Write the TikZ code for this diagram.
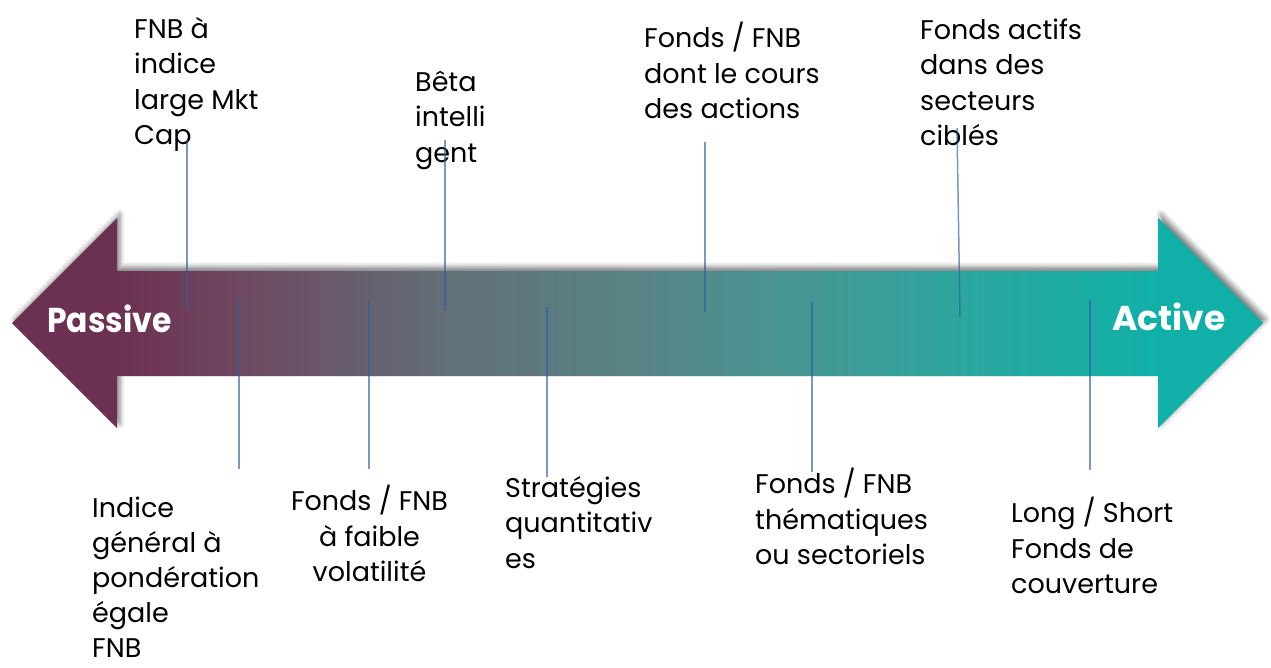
\documentclass[tikz,border=0pt]{standalone}
\usepackage{fontspec}
\usepackage{graphicx}
\setmainfont{Poppins}
\usetikzlibrary{shadows.blur}
\pgfdeclarehorizontalshading{spectrum}{100bp}{
  rgb(0bp)=(0.424,0.188,0.322);
  rgb(29.2bp)=(0.424,0.188,0.322);
  rgb(34bp)=(0.431,0.282,0.376);
  rgb(42.5bp)=(0.384,0.439,0.471);
  rgb(50bp)=(0.345,0.518,0.525);
  rgb(56.5bp)=(0.275,0.588,0.580);
  rgb(64bp)=(0.157,0.659,0.627);
  rgb(70.8bp)=(0.063,0.690,0.659);
  rgb(100bp)=(0.063,0.690,0.659)}
\definecolor{tickblue}{RGB}{47,95,159}
\tikzset{
  lbl/.style={inner sep=0pt, align=left, anchor=north west, text=black,
    font=\fontsize{27}{35.5}\selectfont},
  lblc/.style={lbl, align=center, anchor=north},
  endlbl/.style={inner sep=0pt, anchor=base west, text=white,
    font=\fontsize{34.5}{40}\selectfont\bfseries},
  tick/.style={draw=tickblue, draw opacity=0.65, line width=1.5pt},
  bigarrow/.style={shading=spectrum,
    blur shadow={shadow xshift=3pt, shadow yshift=4pt, shadow blur radius=5pt, shadow opacity=50}}
}
\begin{document}
\begin{tikzpicture}[x=1pt,y=-1pt]
\useasboundingbox (0,0) rectangle (1271,667);
\path[bigarrow] (12,323) -- (117,218) -- (117,271) -- (1158,271) -- (1158,218)
  -- (1263,323) -- (1158,428) -- (1158,376) -- (117,376) -- (117,428) -- cycle;
\node[endlbl] (passive) at (47,332) {\scalebox{0.91}[1]{Passive}};
\node[endlbl] (active) at (1112,330) {Active};
% labels (top)
\node[lbl] (t1) at (134,{38-24.85}) {\strut FNB à\\indice\\large Mkt\\Cap};
\node[lbl] (t2) at (415,{91-24.85}) {\strut Bêta\\intelli\\gent};
\node[lbl] (t3) at (644,{47-24.85}) {\strut Fonds / FNB\\dont le cours\\des actions};
\node[lbl] (t4) at (920,{39-24.85}) {\strut Fonds actifs\\dans des\\secteurs\\ciblés};
% labels (bottom)
\node[lbl, font=\fontsize{27}{35}\selectfont] (b1) at (92,{517-24.5}) {\strut Indice\\général à\\pondération\\égale\\FNB};
\node[lblc] (b2) at (369.5,{510-24.85}) {\strut Fonds / FNB\\à faible\\volatilité};
\node[lbl] (b3) at (505,{497-24.85}) {\strut Stratégies\\quantitativ\\es};
\node[lbl] (b4) at (755,{493-24.85}) {\strut Fonds / FNB\\thématiques\\ou sectoriels};
\node[lbl] (b5) at (1011,{522-24.85}) {\strut Long / Short\\Fonds de\\couverture};
% tick line end points
\coordinate (c1a) at (187,140); \coordinate (c1b) at (187,309);
\coordinate (c2a) at (239,298); \coordinate (c2b) at (239,469);
\coordinate (c3a) at (369,299); \coordinate (c3b) at (369,469);
\coordinate (c4a) at (445,140); \coordinate (c4b) at (445,310);
\coordinate (c5a) at (547,307); \coordinate (c5b) at (547,477);
\coordinate (c6a) at (705,142); \coordinate (c6b) at (705,312);
\coordinate (c7a) at (812,302); \coordinate (c7b) at (812,472);
\coordinate (c8a) at (957,128); \coordinate (c8b) at (960,317);
\coordinate (c9a) at (1090,300); \coordinate (c9b) at (1090,470);
\foreach \i in {1,...,9} {\draw[tick] (c\i a) -- (c\i b);}
\end{tikzpicture}
\end{document}
